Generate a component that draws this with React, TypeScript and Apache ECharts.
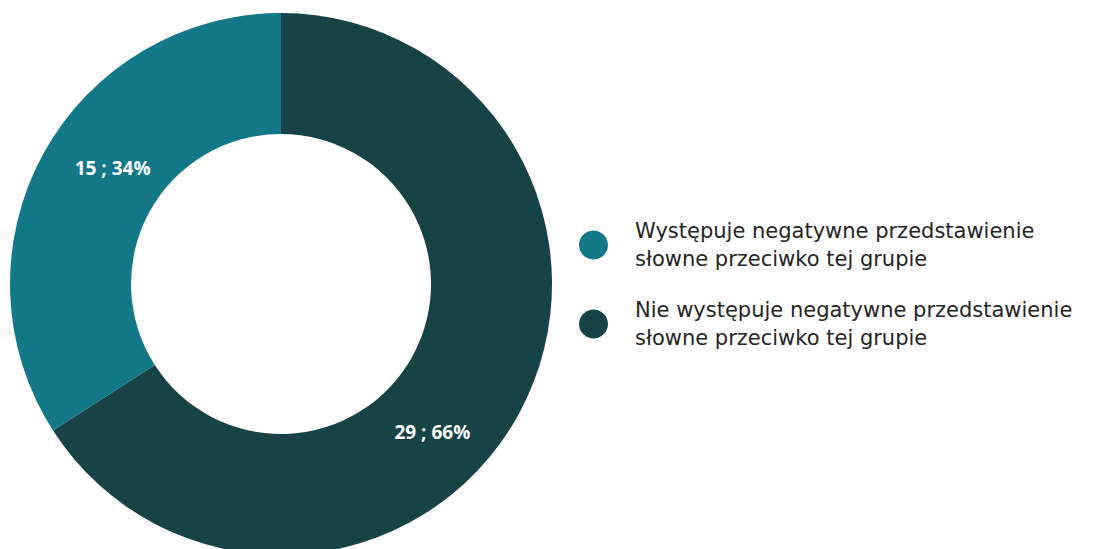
import React, { useEffect, useRef } from "react";
import * as echarts from "echarts";

const categories = [
  "Nie występuje negatywne przedstawienie\nsłowne przeciwko tej grupie",
  "Występuje negatywne przedstawienie\nsłowne przeciwko tej grupie",
];
const values = [29, 15];
const percents = ["66%", "34%"];
const colors = ["#174246", "#137887"];
const legendOrder = [categories[1], categories[0]];
const labelOffsets = [
  [-36, 46],
  [19, -14],
];

export default function App() {
  const ref = useRef<HTMLDivElement>(null);
  useEffect(() => {
    document.body.style.margin = "0";
    const chart = echarts.init(ref.current!, null, { renderer: "svg" });
    chart.setOption({
      animation: false,
      backgroundColor: "#ffffff",
      legend: {
        orient: "vertical",
        left: 574,
        top: 212,
        data: legendOrder,
        icon: "circle",
        itemWidth: 29,
        itemHeight: 29,
        itemGap: 23,
        textStyle: {
          fontFamily: "DejaVu Sans",
          fontSize: 21,
          lineHeight: 28,
          color: "#252525",
          padding: [0, 0, 0, 22],
        },
      },
      series: [
        {
          type: "pie",
          center: [281, 284],
          radius: [150, 271],
          startAngle: 90,
          clockwise: true,
          data: categories.map((c, i) => ({
            name: c,
            value: values[i],
            itemStyle: { color: colors[i] },
          })),
          label: {
            position: "inside",
            formatter: (p: any) => `${values[p.dataIndex]} ; ${percents[p.dataIndex]}`,
            color: "#ffffff",
            fontFamily: "Open Sans",
            fontWeight: "bold",
            fontSize: 19,
          },
          labelLayout: (p: any) => ({
            dx: labelOffsets[p.dataIndex][0],
            dy: labelOffsets[p.dataIndex][1],
          }),
          labelLine: { show: false },
          emphasis: { disabled: true },
        },
      ],
    });
    return () => chart.dispose();
  }, []);
  return <div ref={ref} style={{ width: 1114, height: 549 }} />;
}
